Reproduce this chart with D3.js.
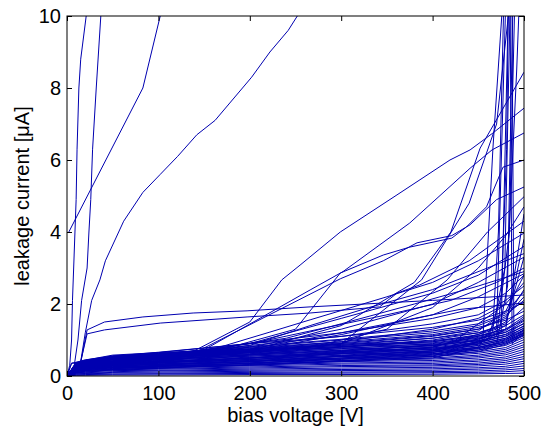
<!DOCTYPE html>
<html>
<head>
<meta charset="utf-8">
<script src="https://cdn.jsdelivr.net/npm/d3@7/dist/d3.min.js"></script>
<style>
  body { margin: 0; background: #fff; }
  text { font-family: "Liberation Sans", Arial, Helvetica, sans-serif; fill: #000; }
</style>
</head>
<body>
<div id="chart"></div>
<script>
// tick labels
var xTicks = [0, 100, 200, 300, 400, 500];
var yTicks = [0, 2, 4, 6, 8, 10];

// voltage steps shared by the bulk of the sensors (V)
var gridVolts = [0, 10, 20, 50, 100, 200, 300, 400, 450, 480, 500];

// leakage current of the "good" sensors at gridVolts (uA)
var bandCurrents = [
  [0, 0.02, 0.02, 0.03, 0.03, 0.04, 0.04, 0.05, 0.06, 0.07, 0.08],
  [0, 0.03, 0.04, 0.05, 0.06, 0.07, 0.08, 0.09, 0.10, 0.12, 0.15],
  [0, 0.05, 0.06, 0.08, 0.08, 0.10, 0.11, 0.12, 0.14, 0.17, 0.21],
  [0, 0.06, 0.07, 0.10, 0.11, 0.13, 0.15, 0.16, 0.19, 0.22, 0.28],
  [0, 0.08, 0.09, 0.12, 0.14, 0.16, 0.18, 0.20, 0.23, 0.27, 0.35],
  [0, 0.09, 0.11, 0.15, 0.16, 0.19, 0.22, 0.24, 0.28, 0.33, 0.41],
  [0, 0.10, 0.13, 0.17, 0.19, 0.22, 0.26, 0.28, 0.32, 0.38, 0.48],
  [0, 0.12, 0.15, 0.19, 0.21, 0.25, 0.29, 0.31, 0.36, 0.43, 0.54],
  [0, 0.13, 0.16, 0.21, 0.24, 0.28, 0.33, 0.35, 0.41, 0.48, 0.61],
  [0, 0.15, 0.18, 0.24, 0.27, 0.31, 0.36, 0.39, 0.45, 0.53, 0.68],
  [0, 0.16, 0.20, 0.26, 0.29, 0.34, 0.40, 0.43, 0.50, 0.59, 0.74],
  [0, 0.18, 0.22, 0.28, 0.32, 0.37, 0.43, 0.47, 0.54, 0.64, 0.81],
  [0, 0.19, 0.23, 0.31, 0.34, 0.40, 0.47, 0.50, 0.58, 0.69, 0.87],
  [0, 0.21, 0.25, 0.33, 0.37, 0.43, 0.50, 0.54, 0.63, 0.74, 0.94],
  [0, 0.22, 0.27, 0.35, 0.40, 0.46, 0.54, 0.58, 0.67, 0.79, 1.01],
  [0, 0.23, 0.29, 0.38, 0.42, 0.49, 0.57, 0.62, 0.72, 0.85, 1.07],
  [0, 0.25, 0.30, 0.40, 0.45, 0.52, 0.61, 0.66, 0.76, 0.90, 1.14],
  [0, 0.26, 0.32, 0.42, 0.47, 0.55, 0.64, 0.69, 0.80, 0.95, 1.20],
  [0, 0.28, 0.34, 0.45, 0.50, 0.58, 0.68, 0.73, 0.85, 1.00, 1.27],
  [0, 0.29, 0.36, 0.47, 0.53, 0.61, 0.71, 0.77, 0.89, 1.05, 1.34],
  [0, 0.31, 0.37, 0.49, 0.55, 0.64, 0.75, 0.81, 0.94, 1.11, 1.40],
  [0, 0.32, 0.39, 0.52, 0.58, 0.67, 0.78, 0.85, 0.98, 1.16, 1.47],
  [0, 0.33, 0.41, 0.54, 0.60, 0.70, 0.82, 0.88, 1.02, 1.21, 1.53],
  [0, 0.35, 0.43, 0.56, 0.63, 0.73, 0.85, 0.92, 1.07, 1.26, 1.60],
  [0, 0.36, 0.44, 0.58, 0.65, 0.75, 0.88, 0.95, 1.10, 1.30, 1.65],
  [0, 0.38, 0.45, 0.55, 0.62, 0.80, 1.00, 1.20, 1.40, 1.70, 2.10],
  [0, 0.36, 0.42, 0.50, 0.58, 0.72, 0.90, 1.10, 1.30, 1.60, 2.40],
  [0, 0.30, 0.36, 0.45, 0.55, 0.70, 0.85, 1.05, 1.25, 1.80, 2.80],
  [0, 0.33, 0.40, 0.48, 0.60, 0.78, 0.95, 1.30, 1.60, 2.00, 2.60],
  [0, 0.28, 0.33, 0.40, 0.50, 0.65, 0.80, 0.95, 1.15, 1.50, 3.30],
  [0, 0.30, 0.38, 0.50, 0.60, 0.85, 1.10, 1.45, 1.70, 2.10, 2.50],
  [0, 0.25, 0.30, 0.38, 0.45, 0.60, 0.72, 0.85, 1.00, 1.40, 3.80],
  [0, 0.34, 0.40, 0.52, 0.65, 0.90, 1.20, 1.60, 1.90, 2.30, 2.80],
  [0, 0.20, 0.25, 0.30, 0.38, 0.50, 0.62, 0.75, 0.90, 1.30, 4.50],
  [0, 0.32, 0.38, 0.46, 0.55, 0.68, 0.82, 1.00, 1.20, 1.45, 1.90],
  [0, 0.35, 0.40, 0.50, 0.58, 0.75, 0.95, 1.15, 1.35, 1.55, 1.80],
  [0, 0.33, 0.38, 0.46, 0.55, 0.70, 0.88, 1.05, 1.20, 1.40, 1.70],
  [0, 0.31, 0.36, 0.45, 0.53, 0.66, 0.80, 0.98, 1.12, 1.30, 1.55],
  [0, 0.28, 0.34, 0.42, 0.50, 0.62, 0.76, 0.90, 1.05, 1.22, 1.45],
  [0, 0.26, 0.31, 0.40, 0.47, 0.58, 0.70, 0.84, 0.98, 1.15, 1.38],
  [0, 0.22, 0.27, 0.36, 0.43, 0.55, 0.66, 0.78, 0.92, 1.10, 1.32],
  [0, 0.20, 0.25, 0.33, 0.40, 0.50, 0.62, 0.74, 0.88, 1.05, 1.28],
  [0, 0.18, 0.22, 0.30, 0.36, 0.46, 0.58, 0.70, 0.84, 1.02, 1.25],
  [0, 0.15, 0.20, 0.27, 0.33, 0.43, 0.54, 0.66, 0.80, 0.98, 1.22],
  [0, 0.12, 0.17, 0.24, 0.30, 0.40, 0.50, 0.62, 0.76, 0.95, 1.18],
  [0, 0.10, 0.14, 0.20, 0.26, 0.36, 0.46, 0.58, 0.72, 0.92, 1.15],
  [0, 0.08, 0.11, 0.17, 0.22, 0.32, 0.42, 0.54, 0.68, 0.88, 1.12],
  [0, 0.36, 0.42, 0.55, 0.66, 0.90, 1.10, 1.35, 1.55, 1.80, 2.05],
  [0, 0.34, 0.40, 0.52, 0.62, 0.82, 1.02, 1.25, 1.45, 1.75, 2.35],
  [0, 0.30, 0.36, 0.47, 0.57, 0.75, 0.92, 1.12, 1.30, 1.65, 2.20]
];

// sensors that run away at low bias: [V, uA]
var earlyCurves = [
  [[0, 0], [3, 0.3], [5, 1.0], [6, 2.1], [8, 3.5], [10, 4.9], [11, 6.3], [13, 8.0], [15, 8.8], [21, 10]],
  [[0, 0], [8, 0.3], [12, 1.0], [16, 2.1], [22, 3.0], [24, 4.0], [26, 4.9], [28, 6.3], [32, 8.0], [37, 10]],
  [[2, 4.0], [83, 8.0], [102, 10]],
  [[0, 0], [10, 0.3], [15, 0.4], [20, 1.2], [27, 2.1], [36, 2.67], [42, 3.2], [62, 4.3], [83, 5.1], [102, 5.6],
   [121, 6.1], [142, 6.7], [162, 7.1], [202, 8.3], [222, 9.0], [242, 9.6], [252, 10]]
];

// sensors with elevated current in the middle range: [V, uA]
var midCurves = [
  [[0, 0], [10, 0.3], [100, 0.5], [137, 0.67], [200, 1.5], [235, 2.67], [255, 3.08], [299, 4.0], [361, 5.03],
   [419, 6.0], [441, 6.28], [466, 6.75], [500, 7.44]],
  [[0, 0], [10, 0.3], [146, 0.67], [266, 2.39], [302, 2.9], [375, 4.25], [441, 5.77], [465, 6.28], [500, 6.75]],
  [[0, 0], [10, 0.25], [200, 0.7], [300, 1.4], [380, 2.6], [420, 4.0], [452, 6.33], [500, 8.44]],
  [[0, 0], [10, 0.3], [150, 0.6], [250, 1.3], [299, 2.86], [346, 3.36], [375, 3.58], [421, 3.83], [437, 4.14],
   [459, 4.7], [477, 5.8], [500, 6.0]],
  [[0, 0], [10, 0.3], [140, 0.65], [299, 2.7], [346, 3.2], [383, 3.7], [421, 3.9], [441, 4.2], [470, 4.9], [500, 5.25]],
  [[0, 0], [10, 0.15], [250, 0.7], [350, 1.3], [416, 2.67], [460, 4.0], [500, 4.98]],
  [[0, 0], [10, 0.2], [300, 0.9], [400, 1.9], [450, 3.0], [480, 3.9], [500, 4.7]],
  [[0, 0], [10, 0.2], [167, 0.8], [222, 1.22], [266, 1.56], [350, 2.2], [400, 2.6], [450, 3.2], [500, 3.97]],
  [[0, 0], [10, 0.25], [200, 0.9], [300, 1.6], [400, 2.3], [450, 2.8], [500, 3.6]],
  [[0, 0], [10, 0.2], [200, 0.8], [300, 1.3], [400, 2.0], [450, 2.6], [500, 3.3]],
  [[0, 0], [10, 0.25], [200, 0.7], [300, 1.15], [400, 1.7], [450, 2.2], [500, 2.84]],
  [[0, 0], [10, 0.3], [200, 0.75], [300, 1.2], [380, 1.6], [430, 1.85], [500, 2.03]],
  [[0, 0], [10, 0.3], [150, 0.7], [220, 1.0], [266, 1.25], [350, 1.7], [420, 2.1], [470, 2.6], [500, 3.0]],
  [[0, 0], [10, 0.25], [130, 0.6], [200, 0.85], [266, 1.4], [330, 1.9], [400, 2.4], [460, 3.0], [500, 3.4]],
  [[0, 0], [10, 0.3], [160, 0.75], [240, 1.05], [300, 1.45], [380, 2.0], [450, 2.5], [500, 2.9]],
  [[0, 0], [5, 0.35], [15, 0.38], [22, 1.28], [41, 1.5], [83, 1.64], [138, 1.75], [197, 1.81], [266, 1.92],
   [400, 2.1], [500, 2.25]],
  [[0, 0], [5, 0.36], [15, 0.4], [22, 1.17], [41, 1.28], [102, 1.47], [197, 1.64], [266, 1.75], [342, 1.92],
   [361, 2.3], [386, 2.53], [440, 3.2], [500, 4.3]],
  [[0, 0], [10, 0.2], [300, 0.9], [388, 2.67], [440, 4.8], [470, 7.0], [485, 10.5]]
];

// breakdown close to full bias: [V, uA]
var breakdownCurves = [
  [[0, 0], [10, 0.2], [200, 0.35], [400, 0.6], [450, 0.8], [466, 1.4], [472, 4], [478, 10.5]],
  [[0, 0], [10, 0.25], [200, 0.4], [400, 0.7], [460, 1.0], [475, 2.2], [481, 6.3], [483, 10.5]],
  [[0, 0], [10, 0.3], [200, 0.45], [400, 0.8], [465, 1.2], [479, 3.0], [485, 10.5]],
  [[0, 0], [10, 0.2], [200, 0.3], [400, 0.5], [470, 0.9], [482, 2.5], [488, 10.5]],
  [[0, 0], [10, 0.15], [200, 0.3], [400, 0.55], [470, 1.1], [484, 4.0], [490, 10.5]],
  [[0, 0], [10, 0.2], [200, 0.35], [400, 0.65], [455, 1.0], [466, 6.33], [477, 10.5]],
  [[0, 0], [10, 0.3], [200, 0.5], [400, 0.8], [470, 1.3], [484, 14], [487, 0.9], [500, 1.2]],
  [[0, 0], [10, 0.2], [200, 0.4], [400, 0.7], [475, 1.2], [486, 14], [489, 1.0], [500, 1.3]],
  [[0, 0], [10, 0.25], [200, 0.5], [420, 0.9], [480, 2.0], [492, 8.5], [495, 10.5]]
];

var svgWidth = 550;
var svgHeight = 428;
var margin = { top: 16, right: 26, bottom: 52, left: 67 };
var width = svgWidth - margin.left - margin.right;
var height = svgHeight - margin.top - margin.bottom;

var svg = d3.select("#chart").append("svg")
    .attr("width", svgWidth)
    .attr("height", svgHeight);

var chartGroup = svg.append("g")
    .attr("transform", `translate(${margin.left}, ${margin.top})`);

var xScale = d3.scaleLinear().domain([0, 500]).range([0, width]);
var yScale = d3.scaleLinear().domain([0, 10]).range([height, 0]);

chartGroup.append("clipPath").attr("id", "plot-clip")
    .append("rect").attr("width", width).attr("height", height);

var line = d3.line()
    .x(function(d) { return xScale(d[0]); })
    .y(function(d) { return yScale(d[1]); });

// band curves share gridVolts
var allCurves = bandCurrents.map(function(c) {
    return c.map(function(v, i) { return [gridVolts[i], v]; });
}).concat(midCurves, breakdownCurves, earlyCurves);

chartGroup.append("g")
    .attr("clip-path", "url(#plot-clip)")
    .selectAll("path")
    .data(allCurves)
    .enter()
    .append("path")
    .attr("d", line)
    .attr("fill", "none")
    .attr("stroke", "#0000b0")
    .attr("stroke-width", 1);

// axes, ticks pointing inward on all four sides (box on)
var tickLen = 5;
var xAxis = d3.axisBottom(xScale).tickValues(xTicks).tickSizeInner(-tickLen).tickSizeOuter(0).tickPadding(10);
var yAxis = d3.axisLeft(yScale).tickValues(yTicks).tickSizeInner(-tickLen).tickSizeOuter(0).tickPadding(6);
var xTop = d3.axisTop(xScale).tickValues(xTicks).tickSizeInner(-tickLen).tickSizeOuter(0).tickFormat("");
var yRight = d3.axisRight(yScale).tickValues(yTicks).tickSizeInner(-tickLen).tickSizeOuter(0).tickFormat("");

chartGroup.append("g").attr("transform", `translate(0, ${height})`).call(xAxis);
chartGroup.append("g").call(yAxis);
chartGroup.append("g").call(xTop);
chartGroup.append("g").attr("transform", `translate(${width}, 0)`).call(yRight);

chartGroup.selectAll(".domain").remove();
chartGroup.selectAll(".tick line").attr("stroke", "#000");
chartGroup.selectAll(".tick text")
    .style("font-size", "20px")
    .style("font-family", "'Liberation Sans', Arial, sans-serif")
    .attr("fill", "#000");

chartGroup.append("rect")
    .attr("width", width)
    .attr("height", height)
    .attr("fill", "none")
    .attr("stroke", "#000")
    .attr("stroke-width", 1);

// axis labels
chartGroup.append("text")
    .attr("x", width / 2)
    .attr("y", height + 46)
    .style("text-anchor", "middle")
    .style("font-size", "20px")
    .text("bias voltage [V]");

chartGroup.append("text")
    .attr("transform", "rotate(-90)")
    .attr("x", 0 - height / 2)
    .attr("y", 0 - 38)
    .style("text-anchor", "middle")
    .style("font-size", "20px")
    .text("leakage current [\u03bcA]");
</script>
</body>
</html>
